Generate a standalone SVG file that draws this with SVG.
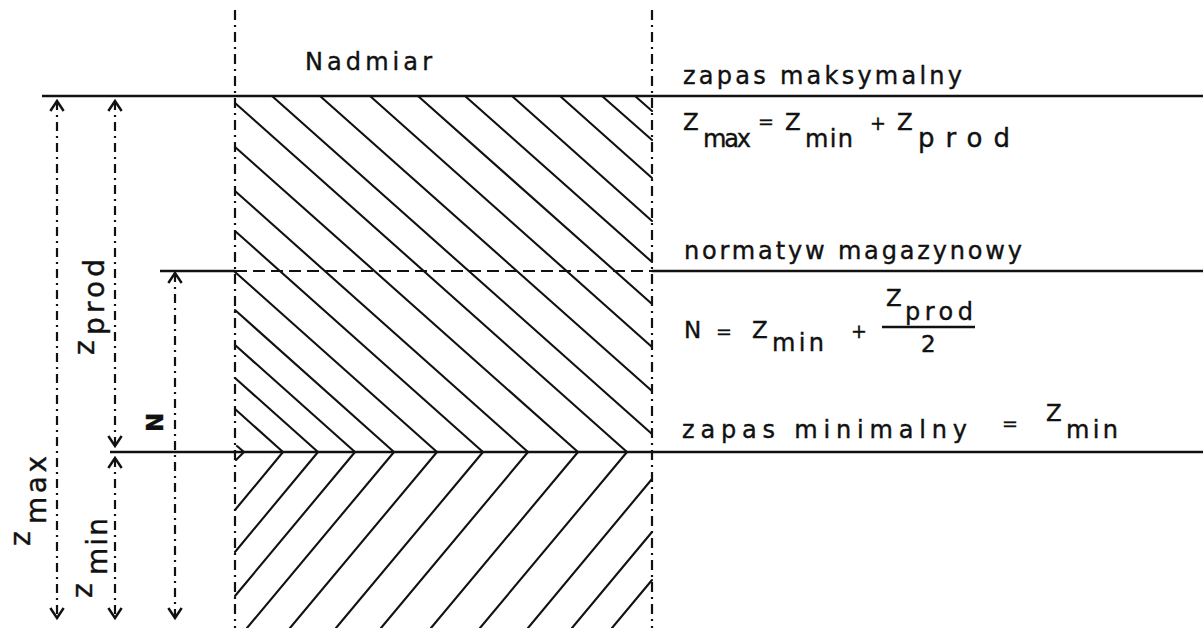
<svg xmlns="http://www.w3.org/2000/svg" width="1203" height="628" viewBox="0 0 1203 628">
<style>
  .ln{stroke:#111;stroke-width:2.4;fill:none}
  .hatch{stroke:#111;stroke-width:2.1;fill:none;stroke-linecap:round}
  .dd{stroke:#111;stroke-width:2.2;fill:none;stroke-dasharray:10 5 2 5}
  .dim{stroke:#111;stroke-width:2.2;fill:none;stroke-dasharray:9 5 2 5}
  .dash{stroke:#111;stroke-width:2.2;fill:none;stroke-dasharray:12 6}
  text{font-family:"DejaVu Sans","Liberation Sans",sans-serif;fill:#111;stroke:#111;stroke-width:0.4}
  .t{font-size:24px}
  .c{font-size:23px}
  .n{font-size:19px}
  .r{font-size:28px}
  .big{font-size:26px}
</style>
<defs>
  <marker id="arr" markerWidth="20" markerHeight="20" refX="0" refY="0" viewBox="-11 -9 13 18" orient="auto-start-reverse" markerUnits="userSpaceOnUse">
    <path d="M-9,-6 L0,0 L-9,6" fill="none" stroke="#111" stroke-width="2.2"/>
  </marker>
</defs>

<g id="hatch">
  <path class="hatch" d="M235,409 L283,452 M235,378 L318,452 M235,345 L355,452 M235,310 L394,452 M235,272 L437,452 M235,231 L483,452 M235,191 L528,452 M235,147 L578,452 M235,103 L627,452 M272,96 L652,434 M320,96 L652,391 M370,96 L652,347 M418,96 L652,304 M465,96 L652,262 M512,96 L652,221 M560,96 L652,178 M602,96 L652,140 M635,96 L652,111 M237,446 L244,452"/>
  <path class="hatch" d="M244,452 L236,460 M283,452 L235,510 M318,452 L235,552 M355,452 L235,596 M394,452 L247,628 M437,452 L290,628 M483,452 L336,628 M528,452 L381,628 M578,452 L431,628 M627,452 L480,628 M652,479 L528,628 M652,532 L572,628 M652,580 L612,628"/>
</g>

<g id="levels">
  <line class="ln" x1="42" y1="96" x2="1203" y2="96" stroke-width="2.8"/>
  <line class="ln" x1="160" y1="271" x2="235" y2="271"/>
  <line class="dash" x1="235" y1="271" x2="652" y2="271"/>
  <line class="ln" x1="652" y1="271" x2="1203" y2="271"/>
  <line class="ln" x1="110" y1="452" x2="1203" y2="452" stroke-width="2.8"/>
</g>

<g id="dividers">
  <line class="dd" x1="235" y1="10" x2="235" y2="628"/>
  <line class="dd" x1="652" y1="10" x2="652" y2="628"/>
</g>

<g id="connectors">
  <line class="dim" x1="57" y1="101" x2="57" y2="618" marker-start="url(#arr)" marker-end="url(#arr)"/>
  <line class="dim" x1="115" y1="101" x2="115" y2="446" marker-start="url(#arr)" marker-end="url(#arr)"/>
  <line class="dim" x1="115" y1="458" x2="115" y2="618" marker-start="url(#arr)" marker-end="url(#arr)"/>
  <line class="dim" x1="175" y1="273" x2="175" y2="618" marker-start="url(#arr)" marker-end="url(#arr)"/>
</g>

<g id="label-nadmiar">
  <text class="t" x="305" y="70" textLength="127" lengthAdjust="spacing">Nadmiar</text>
</g>

<g id="label-zmax" transform="translate(30,546) rotate(-90)">
  <text class="r" x="0" y="0">z</text>
  <text class="r" x="22" y="16" textLength="68" lengthAdjust="spacing">max</text>
</g>
<g id="label-zprod" transform="translate(94,355) rotate(-90)">
  <text class="r" x="0" y="0">z</text>
  <text class="r" x="20" y="10" textLength="76" lengthAdjust="spacing">prod</text>
</g>
<g id="label-zmin" transform="translate(92,598) rotate(-90)">
  <text class="r" x="0" y="0">z</text>
  <text class="r" x="23" y="15" textLength="57" lengthAdjust="spacing">min</text>
</g>
<g id="label-n" transform="translate(163,432) rotate(-90)">
  <text class="c" x="0" y="0" font-weight="bold">N</text>
</g>

<g id="zapas-maksymalny">
  <text class="t" x="683" y="84" textLength="279" lengthAdjust="spacing">zapas maksymalny</text>
  <text class="c" x="683" y="130">Z</text>
  <text class="t" x="703" y="147" textLength="48" lengthAdjust="spacing">max</text>
  <text class="n" x="758" y="128">=</text>
  <text class="c" x="785" y="130">Z</text>
  <text class="t" x="805" y="147" textLength="48" lengthAdjust="spacing">min</text>
  <text class="n" x="870" y="130">+</text>
  <text class="c" x="897" y="130">Z</text>
  <text class="big" x="918" y="147" textLength="92" lengthAdjust="spacing">prod</text>
</g>

<g id="normatyw">
  <text class="t" x="684" y="259" textLength="338" lengthAdjust="spacing">normatyw magazynowy</text>
  <text class="c" x="684" y="338">N</text>
  <text class="n" x="716" y="338">=</text>
  <text class="c" x="752" y="338">Z</text>
  <text class="t" x="772" y="351" textLength="52" lengthAdjust="spacing">min</text>
  <text class="n" x="851" y="338">+</text>
  <text class="c" x="886" y="306">Z</text>
  <text class="t" x="905" y="320" textLength="68" lengthAdjust="spacing">prod</text>
  <line class="ln" x1="882" y1="327" x2="975" y2="327" stroke-width="2.2"/>
  <text class="c" x="921" y="352">2</text>
</g>

<g id="zapas-minimalny">
  <text class="t" x="682" y="438" textLength="285" lengthAdjust="spacing">zapas minimalny</text>
  <text class="n" x="1002" y="430">=</text>
  <text class="c" x="1046" y="421">Z</text>
  <text class="t" x="1066" y="438" textLength="52" lengthAdjust="spacing">min</text>
</g>
</svg>
